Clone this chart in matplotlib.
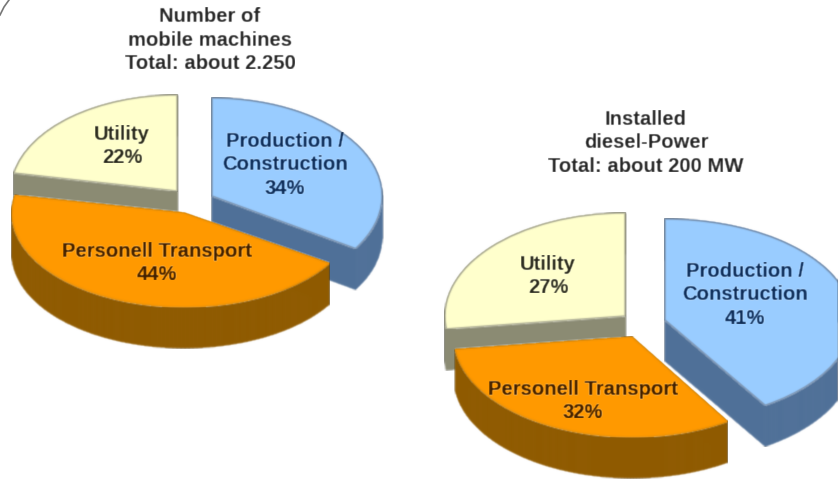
import numpy as np
import matplotlib
matplotlib.use('Agg')
import matplotlib.pyplot as plt
from matplotlib.collections import PolyCollection
from matplotlib.patches import Wedge
from matplotlib.transforms import Affine2D

plt.rcParams['font.family'] = ['Liberation Sans', 'DejaVu Sans']

categories = ['Production /\nConstruction', 'Personell Transport', 'Utility']
machines_share = [34, 44, 22]
power_share = [41, 32, 27]
machines_title = 'Number of\nmobile machines\nTotal: about 2.250'
power_title = 'Installed\ndiesel-Power\nTotal: about 200 MW'

top_colors = ['#99ccff', '#ff9900', '#ffffcc']
wall_colors = ['#4f7098', '#8f5a00', '#8b8b73']
edge_colors = ['#7d98b8', '#ec930a', '#b5b59a']
text_colors = ['#0c2a55', '#3f1f00', '#25251a']
draw_order = [2, 0, 1]
DEPTH = 41


def blur(img, dpi):
    # soft look of the scanned picture
    kernel = np.array([0.17, 0.66, 0.17])
    out = img.copy()
    for axis in (0, 1):
        out = np.apply_along_axis(lambda m: np.convolve(m, kernel, mode='same'), axis, out)
    return out, 0, 0


def draw_pie(ax, shares, apexes, radii):
    edges = np.cumsum([0] + shares) / sum(shares) * 360 - 90
    for i in draw_order:
        cx, cy = apexes[i]
        rx, ry = radii[i]
        # outline of the slice, swept down for the side walls
        t = np.radians(np.linspace(edges[i], edges[i + 1], 120))
        xs = np.r_[cx, cx + rx * np.cos(t), cx]
        ys = np.r_[cy, cy + ry * np.sin(t), cy]
        quads = [[(xs[k], ys[k]), (xs[k + 1], ys[k + 1]),
                  (xs[k + 1], ys[k + 1] + DEPTH), (xs[k], ys[k] + DEPTH)]
                 for k in range(len(xs) - 1)]
        walls = PolyCollection(quads, facecolors=wall_colors[i], edgecolors=wall_colors[i],
                               linewidths=0.8)
        walls.set_agg_filter(blur)
        ax.add_collection(walls)
        tr = Affine2D().scale(rx, ry).translate(cx, cy) + ax.transData
        top = Wedge((0, 0), 1, edges[i], edges[i + 1], transform=tr,
                    facecolor=top_colors[i], edgecolor=edge_colors[i], linewidth=1.1)
        top.set_agg_filter(blur)
        ax.add_patch(top)


def put_text(ax, x, y, s, color='#222222'):
    t = ax.text(x, y, s, ha='center', va='center', fontsize=14.6, fontweight='bold',
                color=color, linespacing=1.32)
    t.set_agg_filter(blur)


fig = plt.figure(figsize=(8.38, 4.79), dpi=100)
ax = fig.add_axes([0, 0, 1, 1])
ax.set_xlim(0, 838)
ax.set_ylim(479, 0)
ax.axis('off')

# left pie
draw_pie(ax, machines_share, [(212, 196), (184, 213), (177, 191)],
         [(170, 98), (172, 94), (166, 96)])
put_text(ax, 210, 40, machines_title)
for i, (x, y) in enumerate([(285, 165), (157, 263), (122, 146)]):
    put_text(ax, x, y, f'{categories[i]}\n{machines_share[i]}%', text_colors[i])

# right pie
draw_pie(ax, power_share, [(665, 320), (632, 337), (625, 316)],
         [(187, 101), (178, 100), (180, 103)])
put_text(ax, 646, 143, power_title)
for i, (x, y) in enumerate([(745, 295), (583, 401), (548, 276)]):
    put_text(ax, x, y, f'{categories[i]}\n{power_share[i]}%', text_colors[i])

# bit of the rounded frame in the corner
ax.plot([9, 4, 0], [0, 7, 15], color='#777777', linewidth=1.2)

fig.savefig('out.png', dpi=100)
